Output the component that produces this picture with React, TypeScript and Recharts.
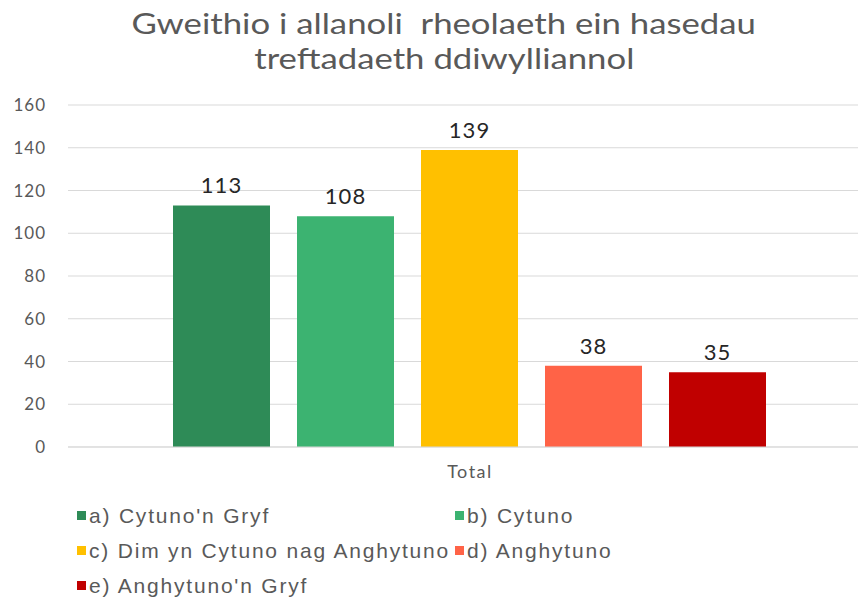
import { BarChart, Bar, XAxis, YAxis, CartesianGrid, LabelList } from 'recharts';

const title = ['Gweithio i allanoli  rheolaeth ein hasedau', 'treftadaeth ddiwylliannol'];
const categories = ['Total'];
const seriesKeys = ['a', 'b', 'c', 'd', 'e'];
const seriesNames = [
  "a) Cytuno'n Gryf",
  'b) Cytuno',
  'c) Dim yn Cytuno nag Anghytuno',
  'd) Anghytuno',
  "e) Anghytuno'n Gryf",
];
const seriesValues = [113, 108, 139, 38, 35];
const seriesColors = ['#2E8B57', '#3CB371', '#FFC000', '#FF6347', '#C00000'];
const yTicks = [0, 20, 40, 60, 80, 100, 120, 140, 160];

const data = categories.map(name => {
  const row: Record<string, string | number> = { name };
  seriesKeys.forEach((k, i) => (row[k] = seriesValues[i]));
  return row;
});

const gray = '#595959';

export default function App() {
  return (
    <div style={{ position: 'absolute', left: 0, top: 0, width: 862, height: 599, background: '#fff', overflow: 'hidden' }}>
      {/* title, stretched a bit sideways like the original */}
      <div
        style={{
          position: 'absolute',
          top: 6,
          left: 13,
          width: 862,
          textAlign: 'center',
          fontFamily: 'Lato, sans-serif',
          fontSize: 28,
          lineHeight: '35px',
          color: gray,
        }}
      >
        {title.map(t => (
          <div key={t} style={{ whiteSpace: 'pre' }}>
            <span style={{ display: 'inline-block', transform: 'scaleX(1.24)' }}>{t}</span>
          </div>
        ))}
      </div>
      <BarChart
        width={862}
        height={599}
        data={data}
        margin={{ top: 105, right: 4, left: 18, bottom: 122 }}
        barCategoryGap={91}
        barGap={27}
      >
        <CartesianGrid vertical={false} stroke="#d9d9d9" />
        <XAxis
          dataKey="name"
          height={30}
          padding={{ left: 14, right: 0 }}
          tickLine={false}
          axisLine={{ stroke: '#d9d9d9' }}
          tick={{ fill: gray, fontSize: 18, fontFamily: 'Lato, sans-serif', letterSpacing: 1.5 }}
          tickMargin={12}
        />
        <YAxis
          width={50}
          domain={[0, 160]}
          ticks={yTicks}
          tickLine={false}
          axisLine={false}
          tick={{ fill: gray, fontSize: 17, fontFamily: 'Lato, sans-serif', letterSpacing: 1 }}
          tickMargin={16}
        />
        {seriesKeys.map((k, i) => (
          <Bar key={k} dataKey={k} name={seriesNames[i]} fill={seriesColors[i]} isAnimationActive={false}>
            <LabelList
              dataKey={k}
              position="top"
              offset={12}
              style={{ fill: '#262626', fontSize: 22, fontFamily: 'Lato, sans-serif', letterSpacing: 1 }}
            />
          </Bar>
        ))}
      </BarChart>
      <div
        style={{
          position: 'absolute',
          left: 77,
          top: 498,
          display: 'grid',
          gridTemplateColumns: '378px auto',
          fontFamily: '"Liberation Sans", Arial, sans-serif',
          fontSize: 21,
          letterSpacing: 1.8,
          color: gray,
        }}
      >
        {seriesNames.map((n, i) => (
          <div key={n} style={{ display: 'flex', alignItems: 'center', height: 35, whiteSpace: 'nowrap' }}>
            <span style={{ width: 9, height: 9, background: seriesColors[i], marginRight: 3, display: 'inline-block' }} />
            {n}
          </div>
        ))}
      </div>
    </div>
  );
}
